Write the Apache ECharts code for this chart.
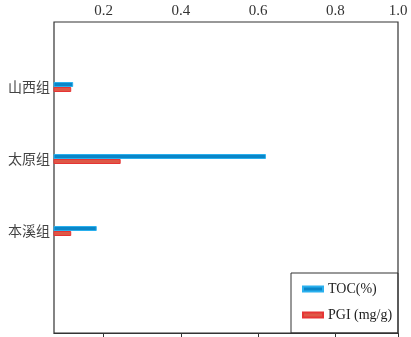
<!DOCTYPE html>
<html>
<head>
<meta charset="utf-8">
<script src="https://cdn.jsdelivr.net/npm/echarts@6/dist/echarts.min.js"></script>
<style>
  html, body { margin: 0; padding: 0; background: #fff; }
  #chart { width: 411px; height: 337px; }
</style>
</head>
<body>
<div id="chart"></div>
<script>
// 数据
const categories = ['山西组', '太原组', '本溪组'];
const tocValues = [0.121, 0.62, 0.182];
const pgiValues = [0.116, 0.244, 0.116];
const tickValues = [0.2, 0.4, 0.6, 0.8, 0.962];
const tickLabels = ['0.2', '0.4', '0.6', '0.8', '1.0'];
const axisMin = 0.0714;
const axisMax = 0.962;

const serif = '"Liberation Serif", "DejaVu Serif", serif';

const chart = echarts.init(document.getElementById('chart'));

chart.setOption({
  animation: false,
  grid: [
    // 外框 + 顶部刻度
    { left: 54, right: 13, top: 22, bottom: 4, show: true, borderColor: '#333', borderWidth: 1.2, backgroundColor: 'transparent' },
    // 柱子
    { left: 54, right: 13, top: 51, height: 216 }
  ],
  xAxis: [
    {
      gridIndex: 0,
      type: 'value',
      position: 'top',
      min: axisMin,
      max: axisMax,
      axisLine: { show: true, lineStyle: { color: '#333', width: 1.2 } },
      axisTick: { show: true, inside: true, length: 4, customValues: tickValues, lineStyle: { color: '#333' } },
      axisLabel: {
        show: true,
        customValues: tickValues,
        margin: 3,
        fontFamily: serif,
        fontSize: 15,
        color: '#333',
        formatter: v => {
          const i = tickValues.findIndex(t => Math.abs(t - v) < 1e-6);
          return i >= 0 ? tickLabels[i] : '';
        }
      },
      splitLine: { show: false }
    },
    {
      gridIndex: 1,
      type: 'value',
      min: axisMin,
      max: axisMax,
      show: false
    }
  ],
  yAxis: [
    { gridIndex: 0, type: 'value', show: false },
    {
      gridIndex: 1,
      type: 'category',
      data: categories,
      inverse: true,
      axisLine: { show: false },
      axisTick: { show: false },
      axisLabel: {
        margin: 4,
        fontFamily: '"Noto Sans CJK SC", sans-serif',
        fontSize: 14,
        color: '#444'
      }
    }
  ],
  legend: {
    orient: 'vertical',
    left: 297,
    top: 277,
    icon: 'rect',
    itemWidth: 20,
    itemHeight: 5,
    itemGap: 12,
    textStyle: { fontFamily: serif, fontSize: 14, color: '#222' },
    data: ['TOC(%)', 'PGI (mg/g)']
  },
  graphic: [
    {
      type: 'rect',
      shape: { x: 291, y: 273, width: 107, height: 60 },
      style: { fill: 'transparent', stroke: '#333', lineWidth: 1 },
      silent: true
    }
  ],
  series: [
    {
      name: 'TOC(%)',
      type: 'bar',
      xAxisIndex: 1,
      yAxisIndex: 1,
      data: tocValues,
      barWidth: 5,
      barGap: '0%',
      clip: true,
      itemStyle: { color: '#0a86c8', borderColor: '#2ab0ee', borderWidth: 1 }
    },
    {
      name: 'PGI (mg/g)',
      type: 'bar',
      xAxisIndex: 1,
      yAxisIndex: 1,
      data: pgiValues,
      barWidth: 5,
      barGap: '0%',
      clip: true,
      itemStyle: { color: '#de5846', borderColor: '#e63434', borderWidth: 1 }
    }
  ]
});
</script>
</body>
</html>
